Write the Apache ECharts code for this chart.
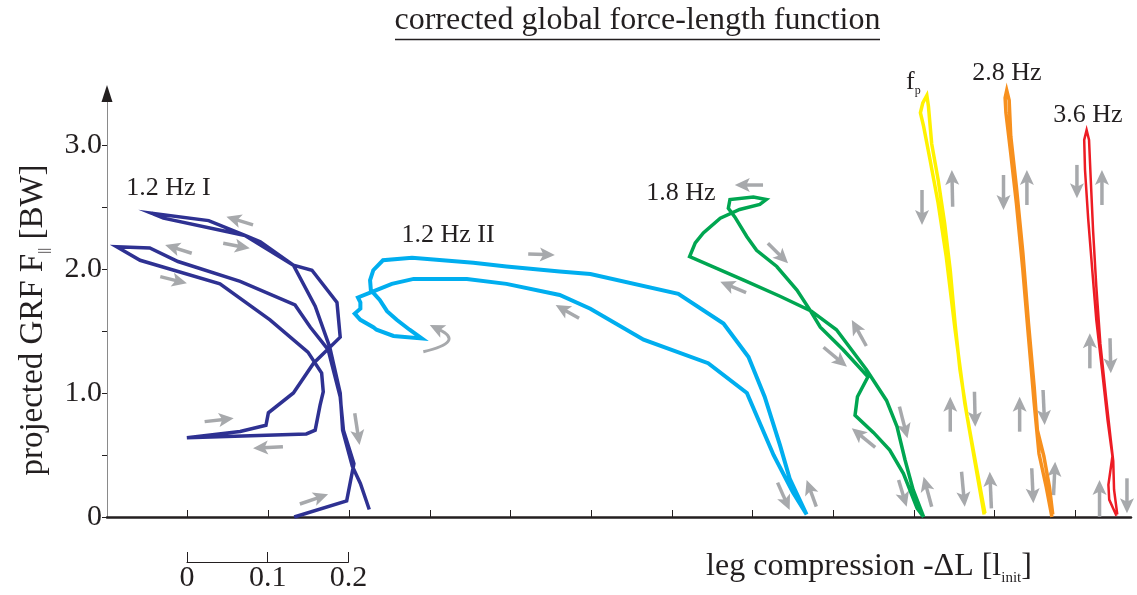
<!DOCTYPE html>
<html>
<head>
<meta charset="utf-8">
<script src="https://cdn.jsdelivr.net/npm/echarts@6/dist/echarts.min.js"></script>
<style>
  html, body { margin: 0; padding: 0; background: #fff; }
  #chart { width: 1137px; height: 595px; }
</style>
</head>
<body>
<div id="chart"></div>
<script>
// Leg compression (offset per condition, units of l_init) vs projected GRF (BW)
const curve12HzI = [
  [0.232,0.00],[0.297,0.13],[0.306,0.43],[0.293,0.70],[0.289,0.97],[0.274,1.35],[0.252,1.53],
  [0.233,1.71],[0.165,1.90],[0.088,2.06],[0.053,2.17],[0.012,2.18],[0.041,2.07],[0.140,1.88],
  [0.202,1.59],[0.249,1.33],[0.266,1.16],[0.268,1.01],[0.264,0.90],[0.258,0.70],[0.247,0.67],
  [0.099,0.64],[0.165,0.69],[0.197,0.74],[0.200,0.84],[0.231,1.00],[0.256,1.24],[0.289,1.45],
  [0.285,1.73],[0.254,1.99],[0.231,2.03],[0.190,2.22],[0.171,2.27],[0.126,2.39],[0.055,2.45],
  [0.070,2.41],[0.171,2.27],[0.231,2.03],[0.258,1.70],[0.276,1.37],[0.289,1.00],[0.292,0.70],
  [0.304,0.41],[0.314,0.27],[0.325,0.06]
];
const curve12HzII = [
  [0.867,0.02],[0.850,0.20],[0.826,0.50],[0.793,1.00],[0.745,1.24],[0.665,1.43],[0.599,1.68],
  [0.561,1.79],[0.495,1.88],[0.446,1.92],[0.380,1.92],[0.353,1.88],[0.330,1.82],[0.311,1.77],
  [0.314,1.73],[0.314,1.68],[0.307,1.64],[0.314,1.59],[0.330,1.53],[0.334,1.51],[0.355,1.46],
  [0.390,1.44],[0.375,1.51],[0.359,1.59],[0.347,1.66],[0.338,1.75],[0.327,1.83],[0.326,1.91],
  [0.330,1.99],[0.342,2.07],[0.378,2.09],[0.454,2.05],[0.495,2.02],[0.561,1.98],[0.599,1.96],
  [0.708,1.80],[0.764,1.56],[0.795,1.29],[0.815,0.97],[0.834,0.58],[0.846,0.31],[0.867,0.02]
];
const curve18Hz = [
  [1.012,0.00],[0.999,0.22],[0.989,0.46],[0.979,0.73],[0.966,0.94],[0.941,1.19],[0.904,1.51],
  [0.873,1.66],[0.834,1.78],[0.789,1.91],[0.722,2.10],[0.729,2.21],[0.739,2.29],[0.760,2.41],
  [0.784,2.48],[0.809,2.52],[0.817,2.56],[0.801,2.58],[0.772,2.56],[0.770,2.49],[0.778,2.42],
  [0.793,2.26],[0.805,2.15],[0.830,2.02],[0.855,1.83],[0.871,1.67],[0.884,1.53],[0.912,1.35],
  [0.943,1.13],[0.930,0.97],[0.927,0.82],[0.950,0.68],[0.970,0.54],[0.987,0.35],[1.004,0.07],
  [1.012,0.00]
];
const curveFp = [
  [1.087,0.02],[1.076,0.43],[1.063,0.92],[1.051,1.51],[1.040,2.10],[1.030,2.53],[1.020,2.88],
  [1.012,3.15],[1.008,3.26],[1.011,3.34],[1.016,3.40],[1.018,3.31],[1.022,3.01],[1.030,2.72],
  [1.038,2.37],[1.045,1.99],[1.051,1.56],[1.057,1.19],[1.066,0.81],[1.078,0.38],[1.088,0.03]
];
const curve28Hz = [
  [1.171,0.00],[1.164,0.24],[1.155,0.51],[1.149,0.92],[1.142,1.45],[1.135,1.99],[1.127,2.53],
  [1.120,2.93],[1.114,3.26],[1.113,3.38],[1.115,3.44],[1.118,3.36],[1.120,3.07],[1.127,2.66],
  [1.135,2.13],[1.142,1.56],[1.149,1.05],[1.153,0.70],[1.161,0.49],[1.168,0.24],[1.172,0.02]
];
const curve36Hz = [
  [1.251,0.01],[1.242,0.14],[1.241,0.26],[1.246,0.49],[1.240,0.78],[1.233,1.19],[1.226,1.59],
  [1.221,1.99],[1.216,2.40],[1.212,2.80],[1.211,3.04],[1.214,3.12],[1.217,3.04],[1.219,2.74],
  [1.222,2.31],[1.226,1.86],[1.231,1.40],[1.238,0.97],[1.244,0.62],[1.247,0.45],[1.248,0.22],
  [1.252,0.02]
];

// Direction-of-travel arrows: [tailX, tailY, tipX, tipY]
const flowArrows = [
  [0.181,2.355,0.148,2.422],[0.144,2.207,0.177,2.167],[0.105,2.127,0.072,2.194],
  [0.066,1.938,0.099,1.885],[0.121,0.769,0.157,0.796],[0.218,0.567,0.181,0.554],
  [0.307,0.836,0.313,0.581],[0.239,0.105,0.274,0.183],
  [0.522,2.121,0.555,2.113],[0.585,1.602,0.556,1.710],
  [0.831,0.277,0.846,0.056],[0.879,0.083,0.867,0.298],
  [0.813,2.677,0.778,2.677],[0.819,2.207,0.844,2.046],[0.792,1.809,0.760,1.898],
  [0.941,1.379,0.923,1.589],[0.888,1.369,0.917,1.212],[0.982,0.890,0.992,0.635],
  [0.952,0.562,0.923,0.715],[0.981,0.298,0.991,0.083],[1.022,0.083,1.012,0.325],
  [1.010,2.637,1.010,2.355],[1.048,2.502,1.047,2.798],[1.045,0.688,1.045,0.970],
  [1.075,1.010,1.076,0.728],[1.059,0.365,1.063,0.083],[1.096,0.070,1.094,0.365],
  [1.111,2.758,1.111,2.476],[1.140,2.516,1.140,2.798],[1.131,0.688,1.131,0.970],
  [1.160,1.024,1.162,0.742],[1.146,0.393,1.148,0.110],[1.173,0.177,1.175,0.446],
  [1.202,2.839,1.202,2.570],[1.233,2.516,1.233,2.798],[1.218,1.199,1.218,1.481],
  [1.243,1.441,1.244,1.159],[1.230,0.002,1.230,0.298],[1.264,0.312,1.264,0.030]
];
// Curved arrow: [tailX, tailY, controlX, controlY, tipX, tipY]
const turnArrows = [[0.392,1.333,0.444,1.411,0.400,1.548]];

const yTicks = [0, 0.5, 1, 1.5, 2, 2.5, 3];
const yLabels = [0, 1, 2, 3];
const xTicks = [0.1, 0.2, 0.3, 0.4, 0.5, 0.6, 0.7, 0.8, 0.9, 1.0, 1.1, 1.2];
const scaleTicks = [0, 0.1, 0.2];

const FONT = "'Liberation Serif', 'Times New Roman', serif";
const INK = '#231F20';
const ARROW_GREY = '#A7A9AC';
const HEAD_LEN = 15, HEAD_W = 14, HEAD_NOTCH = 3.5, SHAFT_W = 3.5;

function headPoints(tip, dir, len, width, notch) {
  const px = -dir[1], py = dir[0];
  const bx = tip[0] - dir[0] * len, by = tip[1] - dir[1] * len;
  const nx = tip[0] - dir[0] * (len - notch), ny = tip[1] - dir[1] * (len - notch);
  return [tip, [bx + px * width / 2, by + py * width / 2], [nx, ny], [bx - px * width / 2, by - py * width / 2]];
}

function unit(a, b) {
  const dx = b[0] - a[0], dy = b[1] - a[1];
  const l = Math.sqrt(dx * dx + dy * dy) || 1;
  return [dx / l, dy / l];
}

function renderArrow(params, api) {
  const p1 = api.coord([api.value(0), api.value(1)]);
  const p2 = api.coord([api.value(2), api.value(3)]);
  const d = unit(p1, p2);
  const shaftEnd = [p2[0] - d[0] * (HEAD_LEN - 5), p2[1] - d[1] * (HEAD_LEN - 5)];
  return {
    type: 'group',
    children: [
      { type: 'line', shape: { x1: p1[0], y1: p1[1], x2: shaftEnd[0], y2: shaftEnd[1] },
        style: { stroke: ARROW_GREY, lineWidth: SHAFT_W } },
      { type: 'polygon', shape: { points: headPoints(p2, d, HEAD_LEN, HEAD_W, HEAD_NOTCH) },
        style: { fill: ARROW_GREY } }
    ]
  };
}

function renderTurnArrow(params, api) {
  const p1 = api.coord([api.value(0), api.value(1)]);
  const pc = api.coord([api.value(2), api.value(3)]);
  const p2 = api.coord([api.value(4), api.value(5)]);
  const d = unit(pc, p2);
  const end = [p2[0] - d[0] * (HEAD_LEN - 5), p2[1] - d[1] * (HEAD_LEN - 5)];
  return {
    type: 'group',
    children: [
      { type: 'bezierCurve', shape: { x1: p1[0], y1: p1[1], x2: end[0], y2: end[1], cpx1: pc[0], cpy1: pc[1] },
        style: { stroke: ARROW_GREY, lineWidth: 3, fill: null } },
      { type: 'polygon', shape: { points: headPoints(p2, d, HEAD_LEN, HEAD_W, HEAD_NOTCH) },
        style: { fill: ARROW_GREY } }
    ]
  };
}

function loop(name, data, color, width) {
  return {
    name: name, type: 'line', data: data, xAxisIndex: 0, yAxisIndex: 0,
    symbol: 'none', showSymbol: false, clip: false, silent: true, z: 3,
    lineStyle: { color: color, width: width, join: 'miter' }
  };
}

const chart = echarts.init(document.getElementById('chart'), null, { renderer: 'canvas' });

chart.setOption({
  animation: false,
  backgroundColor: '#ffffff',
  grid: [
    { left: 107, right: 6, top: 93.5, bottom: 78, outerBoundsMode: 'none', containLabel: false },
    { left: 187, width: 161.4, top: 530, height: 32, outerBoundsMode: 'none', containLabel: false }
  ],
  xAxis: [
    {
      type: 'value', gridIndex: 0, min: 0, max: 1.269,
      axisLine: { show: true, onZero: false, lineStyle: { color: INK, width: 2.5 } },
      axisTick: { show: true, inside: true, length: 7, customValues: xTicks, lineStyle: { color: INK, width: 1 } },
      axisLabel: { show: false },
      splitLine: { show: false }
    },
    {
      type: 'value', gridIndex: 1, min: 0, max: 0.2, interval: 0.1,
      axisLine: { show: true, onZero: false, lineStyle: { color: INK, width: 1 } },
      axisTick: { show: true, inside: true, length: 10, customValues: scaleTicks, lineStyle: { color: INK, width: 1 } },
      axisLabel: {
        show: true, margin: 1, color: INK, fontFamily: FONT, fontSize: 30,
        customValues: scaleTicks,
        formatter: v => (v === 0 ? '0' : v.toFixed(1))
      },
      splitLine: { show: false }
    }
  ],
  yAxis: [
    {
      type: 'value', gridIndex: 0, min: 0, max: 3.415, interval: 0.5,
      axisLine: { show: true, onZero: false, lineStyle: { color: '#8a8a8a', width: 1 } },
      axisTick: { show: true, inside: false, length: 5, customValues: yTicks, lineStyle: { color: INK, width: 1 } },
      axisLabel: {
        show: true, margin: 5, color: INK, fontFamily: FONT, fontSize: 30,
        customValues: yLabels,
        formatter: v => (v === 0 ? '0' : v.toFixed(1))
      },
      splitLine: { show: false }
    },
    {
      // arrow head at the top of the force axis
      type: 'value', gridIndex: 0, min: 0, max: 3.415, position: 'left',
      axisLine: { show: true, onZero: false, symbol: ['none', 'triangle'], symbolSize: [11, 17],
        lineStyle: { color: INK, width: 0 } },
      axisTick: { show: false }, axisLabel: { show: false }, splitLine: { show: false }
    },
    { type: 'value', gridIndex: 1, min: 0, max: 1, show: false }
  ],
  series: [
    loop('1.2 Hz I', curve12HzI, '#2E3192', 3.5),
    loop('1.2 Hz II', curve12HzII, '#00AEEF', 4),
    loop('1.8 Hz', curve18Hz, '#00A651', 3.5),
    loop('fp', curveFp, '#FFF200', 3.5),
    loop('2.8 Hz', curve28Hz, '#F7901E', 3.5),
    loop('3.6 Hz', curve36Hz, '#ED1C24', 2.5),
    {
      type: 'custom', xAxisIndex: 0, yAxisIndex: 0, data: flowArrows, clip: false, silent: true, z: 2,
      encode: { x: [0, 2], y: [1, 3] }, renderItem: renderArrow
    },
    {
      type: 'custom', xAxisIndex: 0, yAxisIndex: 0, data: turnArrows, clip: false, silent: true, z: 2,
      encode: { x: [0, 2, 4], y: [1, 3, 5] }, renderItem: renderTurnArrow
    }
  ],
  graphic: [
    { type: 'text', x: 637.5, y: 21, silent: true,
      style: { text: 'corrected global force-length function', fontFamily: FONT, fontSize: 32,
        fill: INK, align: 'center', verticalAlign: 'middle' } },
    { type: 'line', silent: true, shape: { x1: 395, y1: 39.5, x2: 880, y2: 39.5 },
      style: { stroke: INK, lineWidth: 1.5 } },
    { type: 'text', x: 33, y: 320, rotation: Math.PI / 2, silent: true,
      style: { text: '{m|projected GRF F}{s|||}{m| [BW]}', align: 'center', verticalAlign: 'middle', fill: INK,
        rich: {
          m: { fontFamily: FONT, fontSize: 33, lineHeight: 38, fill: INK },
          s: { fontFamily: FONT, fontSize: 15, lineHeight: 38, verticalAlign: 'bottom', fill: INK }
        } } },
    { type: 'text', x: 869, y: 567, silent: true,
      style: { text: '{m|leg compression -ΔL [l}{s|init}{m|]}', align: 'center', verticalAlign: 'middle', fill: INK,
        rich: {
          m: { fontFamily: FONT, fontSize: 32, lineHeight: 38, fill: INK },
          s: { fontFamily: FONT, fontSize: 15, lineHeight: 38, verticalAlign: 'bottom', fill: INK }
        } } },
    { type: 'text', x: 168.5, y: 188, silent: true,
      style: { text: '1.2 Hz I', fontFamily: FONT, fontSize: 26, fill: INK, align: 'center', verticalAlign: 'middle' } },
    { type: 'text', x: 448, y: 235, silent: true,
      style: { text: '1.2 Hz II', fontFamily: FONT, fontSize: 26, fill: INK, align: 'center', verticalAlign: 'middle' } },
    { type: 'text', x: 681, y: 193, silent: true,
      style: { text: '1.8 Hz', fontFamily: FONT, fontSize: 26, fill: INK, align: 'center', verticalAlign: 'middle' } },
    { type: 'text', x: 1007, y: 73, silent: true,
      style: { text: '2.8 Hz', fontFamily: FONT, fontSize: 26, fill: INK, align: 'center', verticalAlign: 'middle' } },
    { type: 'text', x: 1088, y: 115, silent: true,
      style: { text: '3.6 Hz', fontFamily: FONT, fontSize: 26, fill: INK, align: 'center', verticalAlign: 'middle' } },
    { type: 'text', x: 906, y: 82, silent: true,
      style: { text: '{m|f}{s|p}', align: 'left', verticalAlign: 'middle', fill: INK,
        rich: {
          m: { fontFamily: FONT, fontSize: 26, lineHeight: 30, fill: INK },
          s: { fontFamily: FONT, fontSize: 12, lineHeight: 30, verticalAlign: 'bottom', fill: INK }
        } } }
  ]
});
</script>
</body>
</html>
